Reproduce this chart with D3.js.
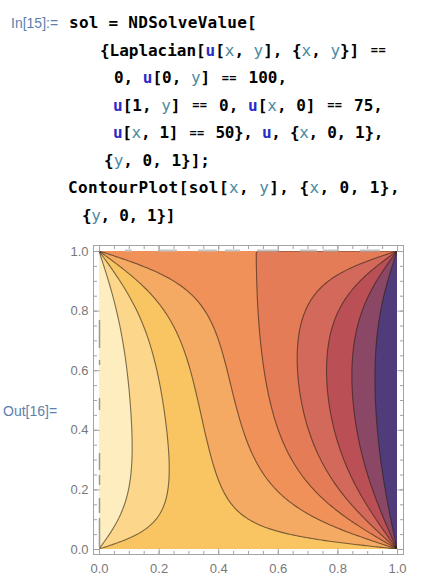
<!DOCTYPE html>
<html>
<head>
<meta charset="utf-8">
<script src="https://cdn.jsdelivr.net/npm/d3@7"></script>
<style>
body { margin: 0; background: #fff; }
svg text { font-family: "Liberation Sans", Arial, sans-serif; }
.code { font-family: "DejaVu Sans Mono", monospace; font-weight: bold; font-size: 16px; }
</style>
</head>
<body>
<div id="chart"></div>
<script>
// boundary conditions from the input cell (left, right, bottom, top)
const edges = ["x=0", "x=1", "y=0", "y=1"];
const edgeValues = [100, 0, 75, 50];

// contour levels and band colours (lowest band first)
const levels = [10, 20, 30, 40, 50, 60, 70, 80, 90];
const bandColors = ["#503c7b", "#8a4866", "#ba5056", "#d3695b", "#e47c57",
                    "#ef9159", "#f5aa63", "#f9c563", "#fcd68b", "#feedbf"];

const xTicks = [0, 0.2, 0.4, 0.6, 0.8, 1.0];
const yTicks = [0, 0.2, 0.4, 0.6, 0.8, 1.0];
const minorTicks = d3.range(0, 1.0001, 0.05);

// input cell text: `..` = blue symbol, ~..~ = local variable
const codeLines = [
  "sol = NDSolveValue[",
  "{Laplacian[`u`[~x~, ~y~], {~x~, ~y~}] ==",
  "0, `u`[0, ~y~] == 100,",
  "`u`[1, ~y~] == 0, `u`[~x~, 0] == 75,",
  "`u`[~x~, 1] == 50}, `u`, {~x~, 0, 1},",
  "{~y~, 0, 1}];",
  "ContourPlot[sol[~x~, ~y~], {~x~, 0, 1},",
  "{~y~, 0, 1}]"
];
// where each line sits: [start x, end x, baseline]
const codeLayout = [[69, 257, 28], [100, 388, 55.5], [114, 287, 83], [113, 383, 110.5],
                    [113, 383, 138], [104, 210, 165.5], [68, 400, 193], [82, 175, 220.5]];

let w = 421, h = 585;

let svg = d3.select("#chart").append("svg")
    .attr("width", w)
    .attr("height", h)
    .style("display", "block");

// labels
svg.append("text").attr("x", 11).attr("y", 28).text("In[15]:=")
    .style("font-size", "14px").style("fill", "#5b7fae");
svg.append("text").attr("x", 3).attr("y", 416).text("Out[16]=")
    .style("font-size", "14px").style("fill", "#5b7fae");

// code lines
codeLines.forEach(function(line, li) {
    let parts = line.split(/(`[^`]*`|~[^~]*~|==)/).filter(s => s.length);
    let plain = parts.map(p => p.replace(/[`~]/g, "")).join("");
    let [x0, x1, base] = codeLayout[li];
    let cw = (x1 - x0) / plain.length;
    let t = svg.append("text").attr("class", "code").attr("y", base)
        .style("letter-spacing", (cw - 0.602 * 16) + "px");
    let idx = 0;
    parts.forEach(function(p) {
        let kind = p[0] == "`" ? "sym" : p[0] == "~" ? "var" : p == "==" ? "eq" : "plain";
        let s = p.replace(/[`~]/g, "");
        let ts = t.append("tspan")
            .attr("x", x0 + idx * cw)
            .attr("y", base)
            .text(s)
            .style("fill", kind == "sym" ? "#2b2bc8" : kind == "var" ? "#4a8aa3" : "#000")
            .style("font-weight", kind == "var" ? "normal" : "bold");
        if (kind == "eq") {
            // Mathematica shows == as a compact glyph
            ts.attr("x", x0 + idx * cw + 2)
              .attr("y", base - 1.5)
              .style("font-size", "12px")
              .style("letter-spacing", "0.4px");
        }
        idx += s.length;
    });
});

// solve Laplace equation on a grid (row 0 = top, y = 1)
const N = 151;
let u = new Float64Array(N * N).fill(d3.mean(edgeValues));
let [uLeft, uRight, uBottom, uTop] = edgeValues;
for (let k = 0; k < N; k++) {
    u[k * N] = uLeft;
    u[k * N + N - 1] = uRight;
    u[k] = uTop;
    u[(N - 1) * N + k] = uBottom;
}
u[0] = (uLeft + uTop) / 2;
u[N - 1] = (uRight + uTop) / 2;
u[(N - 1) * N] = (uLeft + uBottom) / 2;
u[N * N - 1] = (uRight + uBottom) / 2;

let omega = 2 / (1 + Math.sin(Math.PI / (N - 1)));
for (let it = 0; it < 4000; it++) {
    let maxr = 0;
    for (let j = 1; j < N - 1; j++) {
        for (let i = 1; i < N - 1; i++) {
            let k = j * N + i;
            let r = (u[k - 1] + u[k + 1] + u[k - N] + u[k + N]) / 4 - u[k];
            u[k] += omega * r;
            if (Math.abs(r) > maxr) maxr = Math.abs(r);
        }
    }
    if (maxr < 1e-6) break;
}

// scales
let xScale = d3.scaleLinear().domain([0, 1]).range([99, 397]);
let yScale = d3.scaleLinear().domain([0, 1]).range([549, 251]);

// grid coordinate -> pixel (node i sits at i + 0.5)
let gx = c => xScale((c - 0.5) / (N - 1));
let gy = c => yScale(1 - (c - 0.5) / (N - 1));

svg.append("clipPath").attr("id", "plotclip")
    .append("rect")
    .attr("x", xScale(0)).attr("y", yScale(1))
    .attr("width", xScale(1) - xScale(0))
    .attr("height", yScale(0) - yScale(1));

let plot = svg.append("g").attr("clip-path", "url(#plotclip)");

let contours = d3.contours().size([N, N]).thresholds(levels)(Array.from(u));

function ringPath(ring) {
    return "M" + ring.map(p => gx(p[0]).toFixed(2) + "," + gy(p[1]).toFixed(2)).join("L") + "Z";
}

// lowest band fills the whole square
plot.append("rect")
    .attr("x", xScale(0)).attr("y", yScale(1))
    .attr("width", xScale(1) - xScale(0))
    .attr("height", yScale(0) - yScale(1))
    .attr("fill", bandColors[0]);

plot.selectAll("path.band")
    .data(contours)
    .enter()
    .append("path")
    .attr("class", "band")
    .attr("d", c => c.coordinates.map(poly => poly.map(ringPath).join("")).join(""))
    .attr("fill", (c, i) => bandColors[i + 1])
    .attr("fill-rule", "evenodd");

// isolines: ring edges that are not on the grid border
function onBorder(a, b) {
    return (a[0] == b[0] && (a[0] == 0 || a[0] == N)) ||
           (a[1] == b[1] && (a[1] == 0 || a[1] == N));
}
function isoPath(c) {
    let d = "";
    c.coordinates.forEach(function(poly) {
        poly.forEach(function(ring) {
            let pen = false;
            for (let k = 1; k < ring.length; k++) {
                let a = ring[k - 1], b = ring[k];
                if (onBorder(a, b)) { pen = false; continue; }
                if (!pen) d += "M" + gx(a[0]).toFixed(2) + "," + gy(a[1]).toFixed(2);
                d += "L" + gx(b[0]).toFixed(2) + "," + gy(b[1]).toFixed(2);
                pen = true;
            }
        });
    });
    return d;
}

plot.selectAll("path.iso")
    .data(contours)
    .enter()
    .append("path")
    .attr("class", "iso")
    .attr("d", isoPath)
    .attr("fill", "none")
    .style("stroke", "rgba(40,30,20,0.6)")
    .style("stroke-width", 1.1)
    .style("stroke-linejoin", "round");

// boundary noise along the top (u = 50 level) and left edges
svg.append("line")
    .attr("x1", xScale(0.087)).attr("x2", xScale(1))
    .attr("y1", yScale(1) - 0.5).attr("y2", yScale(1) - 0.5)
    .style("stroke", "#c4c4c4").style("stroke-width", 2)
    .style("stroke-dasharray", "7 26 19 21 19 8 15 17 21 22 17 6 15 22 20 40");
svg.append("line")
    .attr("x1", xScale(0) + 0.5).attr("x2", xScale(0) + 0.5)
    .attr("y1", 320).attr("y2", yScale(0) - 2)
    .style("stroke", "#9a9a9a").style("stroke-width", 1.5)
    .style("stroke-dasharray", "28 12 5 33 12 43 17 5 10 13 15 5 29 100");

// frame and ticks
let fx0 = 93.5, fx1 = 403.5, fy0 = 245.5, fy1 = 554.5;
svg.append("rect")
    .attr("x", fx0).attr("y", fy0)
    .attr("width", fx1 - fx0).attr("height", fy1 - fy0)
    .attr("fill", "none")
    .style("stroke", "#a3a3a3");

function addAxis(axis, tx, ty, labels) {
    let g = svg.append("g").attr("transform", "translate(" + tx + "," + ty + ")").call(axis);
    g.select(".domain").remove();
    g.selectAll("line").style("stroke", "#a3a3a3");
    g.selectAll("text")
        .style("font-size", "13px")
        .style("fill", "#787878")
        .style("font-family", "'Liberation Sans', Arial, sans-serif");
    if (!labels) g.selectAll("text").remove();
    return g;
}
let fmt = d3.format(".1f");

addAxis(d3.axisLeft(yScale).tickValues(yTicks).tickSize(-6).tickPadding(5).tickFormat(fmt), fx0, 0, true);
addAxis(d3.axisLeft(yScale).tickValues(minorTicks).tickSize(-3.5), fx0, 0, false);
addAxis(d3.axisBottom(xScale).tickValues(xTicks).tickSize(-6).tickPadding(9).tickFormat(fmt), 0, fy1, true);
addAxis(d3.axisBottom(xScale).tickValues(minorTicks).tickSize(-3.5), 0, fy1, false);
addAxis(d3.axisRight(yScale).tickValues(yTicks).tickSize(-6), fx1, 0, false);
addAxis(d3.axisRight(yScale).tickValues(minorTicks).tickSize(-3.5), fx1, 0, false);
addAxis(d3.axisTop(xScale).tickValues(xTicks).tickSize(-6), 0, fy0, false);
addAxis(d3.axisTop(xScale).tickValues(minorTicks).tickSize(-3.5), 0, fy0, false);
</script>
</body>
</html>
